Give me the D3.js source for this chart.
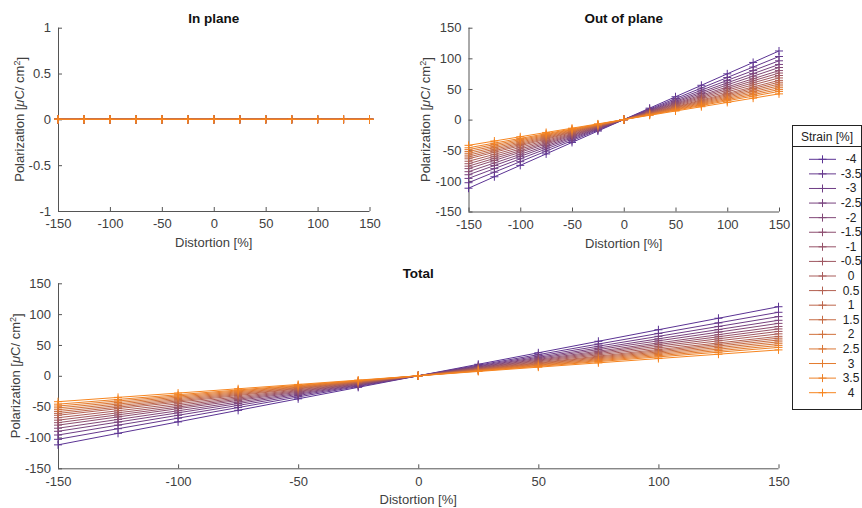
<!DOCTYPE html>
<html>
<head>
<meta charset="utf-8">
<script src="https://cdn.jsdelivr.net/npm/d3@7"></script>
<style>
  body { margin: 0; background: #fff; }
  svg text { font-family: "Liberation Sans", Arial, sans-serif; fill: #404040; }
</style>
</head>
<body>
<svg id="chart" width="862" height="508"></svg>
<script>
// Data
var distortion = [-150, -125, -100, -75, -50, -25, 0, 25, 50, 75, 100, 125, 150];
var strain = ["-4", "-3.5", "-3", "-2.5", "-2", "-1.5", "-1", "-0.5", "0", "0.5", "1", "1.5", "2", "2.5", "3", "3.5", "4"];

// in-plane polarization, one row per strain (all flat at zero)
var inPlane = [
  [0,0,0,0,0,0,0,0,0,0,0,0,0], [0,0,0,0,0,0,0,0,0,0,0,0,0], [0,0,0,0,0,0,0,0,0,0,0,0,0],
  [0,0,0,0,0,0,0,0,0,0,0,0,0], [0,0,0,0,0,0,0,0,0,0,0,0,0], [0,0,0,0,0,0,0,0,0,0,0,0,0],
  [0,0,0,0,0,0,0,0,0,0,0,0,0], [0,0,0,0,0,0,0,0,0,0,0,0,0], [0,0,0,0,0,0,0,0,0,0,0,0,0],
  [0,0,0,0,0,0,0,0,0,0,0,0,0], [0,0,0,0,0,0,0,0,0,0,0,0,0], [0,0,0,0,0,0,0,0,0,0,0,0,0],
  [0,0,0,0,0,0,0,0,0,0,0,0,0], [0,0,0,0,0,0,0,0,0,0,0,0,0], [0,0,0,0,0,0,0,0,0,0,0,0,0],
  [0,0,0,0,0,0,0,0,0,0,0,0,0], [0,0,0,0,0,0,0,0,0,0,0,0,0]
];

// out-of-plane polarization, one row per strain
var outPlane = [
  [-112, -93.3, -74.7, -56, -37.3, -18.7, 0, 18.7, 37.3, 56, 74.7, 93.3, 112],
  [-103, -85.8, -68.7, -51.5, -34.3, -17.2, 0, 17.2, 34.3, 51.5, 68.7, 85.8, 103],
  [-96, -80, -64, -48, -32, -16, 0, 16, 32, 48, 64, 80, 96],
  [-90, -75, -60, -45, -30, -15, 0, 15, 30, 45, 60, 75, 90],
  [-85, -70.8, -56.7, -42.5, -28.3, -14.2, 0, 14.2, 28.3, 42.5, 56.7, 70.8, 85],
  [-80, -66.7, -53.3, -40, -26.7, -13.3, 0, 13.3, 26.7, 40, 53.3, 66.7, 80],
  [-76, -63.3, -50.7, -38, -25.3, -12.7, 0, 12.7, 25.3, 38, 50.7, 63.3, 76],
  [-72, -60, -48, -36, -24, -12, 0, 12, 24, 36, 48, 60, 72],
  [-68, -56.7, -45.3, -34, -22.7, -11.3, 0, 11.3, 22.7, 34, 45.3, 56.7, 68],
  [-64, -53.3, -42.7, -32, -21.3, -10.7, 0, 10.7, 21.3, 32, 42.7, 53.3, 64],
  [-61, -50.8, -40.7, -30.5, -20.3, -10.2, 0, 10.2, 20.3, 30.5, 40.7, 50.8, 61],
  [-58, -48.3, -38.7, -29, -19.3, -9.7, 0, 9.7, 19.3, 29, 38.7, 48.3, 58],
  [-55, -45.8, -36.7, -27.5, -18.3, -9.2, 0, 9.2, 18.3, 27.5, 36.7, 45.8, 55],
  [-52, -43.3, -34.7, -26, -17.3, -8.7, 0, 8.7, 17.3, 26, 34.7, 43.3, 52],
  [-49, -40.8, -32.7, -24.5, -16.3, -8.2, 0, 8.2, 16.3, 24.5, 32.7, 40.8, 49],
  [-46, -38.3, -30.7, -23, -15.3, -7.7, 0, 7.7, 15.3, 23, 30.7, 38.3, 46],
  [-42, -35, -28, -21, -14, -7, 0, 7, 14, 21, 28, 35, 42]
];

// total = in plane + out of plane
var total = outPlane.map((row, i) => row.map((v, j) => v + inPlane[i][j]));

var xTicks = [-150, -100, -50, 0, 50, 100, 150];
var yTicksSmall = [-1, -0.5, 0, 0.5, 1];
var yTicksBig = [-150, -100, -50, 0, 50, 100, 150];

var svg = d3.select("#chart");
var color = d3.scaleLinear()
    .domain([0, strain.length - 1])
    .range(["#5b3394", "#f7851f"])
    .interpolate(d3.interpolateRgb);

function plus(x, y, s) {
    return "M" + (x - s) + "," + y + "H" + (x + s) + "M" + x + "," + (y - s) + "V" + (y + s);
}

function drawPanel(p) {
    var x = d3.scaleLinear().domain([-150, 150]).range([p.left, p.right]);
    var y = d3.scaleLinear().domain(p.yDomain).range([p.bottom, p.top]);
    var g = svg.append("g");

    // axes (MATLAB style: ticks pointing in, no box)
    var xAxis = g.append("g")
        .attr("transform", "translate(0," + p.bottom + ")")
        .call(d3.axisBottom(x).tickValues(xTicks).tickSize(-4).tickPadding(8).tickFormat(d => String(d)));
    var yAxis = g.append("g")
        .attr("transform", "translate(" + p.left + ",0)")
        .call(d3.axisLeft(y).tickValues(p.yTicks).tickSize(-4).tickPadding(7).tickFormat(d => String(d)));
    g.selectAll(".domain").attr("stroke", "#555").attr("stroke-width", 1);
    g.selectAll(".tick line").attr("stroke", "#555");
    g.selectAll(".tick text").style("font-size", "13px").attr("fill", "#404040");
    xAxis.selectAll(".tick text").attr("dy", "0.71em");
    // remove the little outer tick ends d3 draws on domain
    xAxis.select(".domain").attr("d", "M" + p.left + ",0.5H" + p.right);
    yAxis.select(".domain").attr("d", "M0.5," + p.bottom + "V" + p.top);

    var line = d3.line()
        .x((d, i) => x(distortion[i]))
        .y(d => y(d));

    p.data.forEach(function(row, k) {
        g.append("path")
            .attr("d", line(row))
            .attr("fill", "none")
            .attr("stroke", color(k))
            .attr("stroke-width", 1);
        g.append("path")
            .attr("d", row.map((v, i) => plus(x(distortion[i]), y(v), 4)).join(""))
            .attr("fill", "none")
            .attr("stroke", color(k))
            .attr("stroke-width", 1);
    });

    g.append("text")
        .attr("x", (p.left + p.right) / 2)
        .attr("y", p.top - 5)
        .attr("text-anchor", "middle")
        .style("font-size", "13.5px")
        .style("font-weight", "bold")
        .style("fill", "#111")
        .text(p.title);

    g.append("text")
        .attr("x", (p.left + p.right) / 2)
        .attr("y", p.bottom + 36)
        .attr("text-anchor", "middle")
        .style("font-size", "13px")
        .text("Distortion [%]");

    var yl = g.append("text")
        .attr("transform", "translate(" + p.yLabelX + "," + ((p.top + p.bottom) / 2) + ") rotate(-90)")
        .attr("text-anchor", "middle")
        .style("font-size", "13px");
    yl.append("tspan").text("Polarization [");
    yl.append("tspan").style("font-style", "italic").text("\u03bc");
    yl.append("tspan").text("C/ cm");
    yl.append("tspan").attr("dy", "-0.45em").style("font-size", "9px").text("2");
    yl.append("tspan").attr("dy", "0.45em").text("]");
}

drawPanel({ left: 58, right: 369.5, top: 27.7, bottom: 211, yDomain: [-1, 1], yTicks: yTicksSmall,
            title: "In plane", data: inPlane, yLabelX: 24 });
drawPanel({ left: 468.5, right: 779, top: 27.7, bottom: 211.5, yDomain: [-150, 150], yTicks: yTicksBig,
            title: "Out of plane", data: outPlane, yLabelX: 430 });
drawPanel({ left: 58, right: 778.5, top: 283.3, bottom: 468.3, yDomain: [-150, 150], yTicks: yTicksBig,
            title: "Total", data: total, yLabelX: 20 });

// Legend
var lg = svg.append("g");
lg.append("rect")
    .attr("x", 792.5).attr("y", 125.5).attr("width", 69).attr("height", 284)
    .attr("fill", "#fff").attr("stroke", "#222").attr("stroke-width", 1);
lg.append("line")
    .attr("x1", 792.5).attr("x2", 861.5).attr("y1", 146.5).attr("y2", 146.5)
    .attr("stroke", "#222");
lg.append("text")
    .attr("x", 827).attr("y", 140.5)
    .attr("text-anchor", "middle")
    .style("font-size", "12px")
    .style("fill", "#222")
    .text("Strain [%]");

var ly = d3.scalePoint().domain(strain).range([159.3, 392.7]);
strain.forEach(function(s, k) {
    var yy = ly(s);
    lg.append("line")
        .attr("x1", 809).attr("x2", 836).attr("y1", yy).attr("y2", yy)
        .attr("stroke", color(k)).attr("stroke-width", 1);
    lg.append("path")
        .attr("d", plus(822.5, yy, 4))
        .attr("stroke", color(k)).attr("stroke-width", 1).attr("fill", "none");
    lg.append("text")
        .attr("x", 851).attr("y", yy + 4)
        .attr("text-anchor", "middle")
        .style("font-size", "12px")
        .style("fill", "#222")
        .text(s);
});
</script>
</body>
</html>
